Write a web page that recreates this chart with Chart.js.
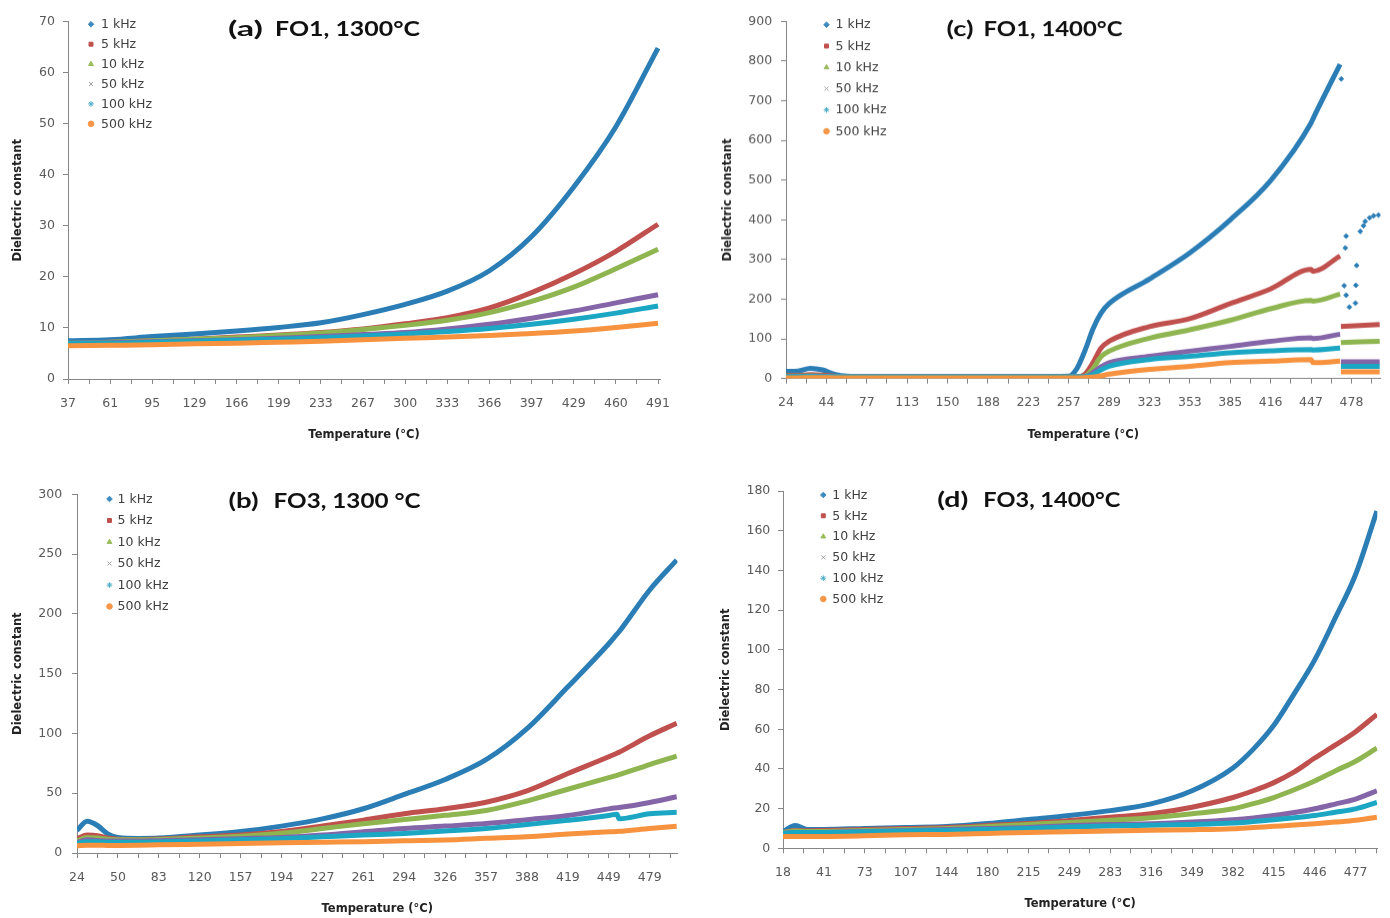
<!DOCTYPE html>
<html>
<head>
<meta charset="utf-8">
<script src="https://cdn.jsdelivr.net/npm/chart.js@4.4.1/dist/chart.umd.min.js"></script>
<style>
  html, body { margin: 0; padding: 0; background: #fff; width: 1390px; height: 918px; overflow: hidden; }
  .panel { position: absolute; }
</style>
</head>
<body>
<div class="panel" id="boxA"><canvas id="chartA"></canvas></div>
<div class="panel" id="boxC"><canvas id="chartC"></canvas></div>
<div class="panel" id="boxB"><canvas id="chartB"></canvas></div>
<div class="panel" id="boxD"><canvas id="chartD"></canvas></div>
<script>
// series shared by all four panels
const seriesNames = ["1 kHz", "5 kHz", "10 kHz", "50 kHz", "100 kHz", "500 kHz"];
const seriesColors = ["#2b7db6", "#c0504d", "#8fb550", "#8466a8", "#1ba7c3", "#f7923f"];
const legendColors = ["#3d8bbf", "#c0504d", "#9bbb59", "#a0a0a0", "#4bacc6", "#f79646"];
const markerStyles = ["rectRot", "rect", "triangle", "crossRot", "star", "circle"];

// x positions are category positions (1 unit = one labelled tick)

// (a) FO1, 1300°C
const ticksA = [37, 61, 95, 129, 166, 199, 233, 267, 300, 333, 366, 397, 429, 460, 491];
const xA = [0, 1, 2, 3, 4, 5, 6, 7, 8, 9, 10, 11, 12, 13, 14];
const a1k   = [7.5, 7.7, 8.3, 8.8, 9.4, 10.1, 11.0, 12.6, 14.6, 17.2, 21.2, 27.9, 37.6, 49.4, 64.8];
const a5k   = [7.0, 7.2, 7.5, 7.8, 8.2, 8.6, 9.1, 9.8, 10.8, 12.0, 13.9, 16.9, 20.6, 25.0, 30.3];
const a10k  = [7.0, 7.2, 7.5, 7.8, 8.1, 8.5, 9.0, 9.7, 10.5, 11.5, 13.0, 15.2, 18.0, 21.6, 25.4];
const a50k  = [7.0, 7.1, 7.3, 7.5, 7.7, 8.0, 8.3, 8.7, 9.1, 9.8, 10.7, 11.9, 13.3, 14.9, 16.5];
const a100k = [7.0, 7.0, 7.2, 7.4, 7.6, 7.8, 8.1, 8.4, 8.8, 9.3, 9.9, 10.7, 11.7, 12.9, 14.3];
const a500k = [6.5, 6.6, 6.7, 6.9, 7.0, 7.2, 7.4, 7.7, 8.0, 8.2, 8.5, 8.9, 9.4, 10.1, 10.9];

// (c) FO1, 1400°C
const ticksC = [24, 44, 77, 113, 150, 188, 223, 257, 289, 323, 353, 385, 416, 447, 478];
const xC = [0, 0.3, 0.6, 0.9, 1.2, 1.5, 2, 3, 4, 5, 6, 7, 7.2, 7.4, 7.6, 7.8, 8, 9, 10, 11, 12, 13, 13.05, 13.72, 13.73, 13.74, 14.7];
const c1k   = [18, 19, 26, 22, 11, 6, 5, 5, 5, 5, 5, 6, 25, 70, 125, 165, 189, 251, 317, 400, 499, 644, 655, 792, null, null, null];
const c5k   = [8, 8, 10, 9, 6, 4, 4, 4, 4, 4, 4, 4, 4, 11, 40, 77, 94, 131, 151, 189, 226, 275, 270, 309, null, 131, 136];
const c10k  = [6, 6, 7, 6.5, 5, 4, 4, 4, 4, 4, 4, 4, 4, 6, 25, 55, 69, 102, 123, 147, 176, 197, 195, 213, null, 91, 94];
const c50k  = [5, 5, 6, 5.5, 4.5, 4, 4, 4, 4, 4, 4, 4, 4, 5, 15, 30, 40, 56, 69, 81, 94, 103, 101, 112, null, 42, 42];
const c100k = [5, 5, 5.5, 5, 4.5, 4, 4, 4, 4, 4, 4, 4, 4, 4.5, 10, 22, 31, 48, 56, 65, 70, 73, 72, 77, null, 31, 31];
const c500k = [2, 2, 2.5, 2.5, 2, 2, 2, 2, 2, 2, 2, 2, 2, 2.5, 4, 7, 11, 23, 31, 40, 44, 48, 40, 44, null, 17, 17];
// scattered 1 kHz points after the break
const xC1kTail = [13.75, 13.82, 13.85, 13.87, 13.87, 13.95, 14.1, 14.11, 14.13, 14.22, 14.3, 14.34, 14.45, 14.55, 14.67];
const c1kTail  = [755, 234, 329, 359, 210, 180, 190, 235, 285, 371, 385, 396, 405, 410, 412];

// (b) FO3, 1300 °C
const ticksB = [24, 50, 83, 120, 157, 194, 227, 261, 294, 326, 357, 388, 419, 449, 479];
const xB = [0, 0.25, 0.5, 0.75, 1, 1.5, 2, 3, 4, 5, 6, 7, 8, 9, 10, 11, 12, 13, 13.2, 13.25, 14, 14.66];
const b1k   = [19, 26.5, 23, 16, 13, 12.2, 12.5, 15, 18, 22.5, 28.5, 37, 49, 61.5, 78, 104, 139, 175, 183, 185, 220, 245];
const b5k   = [12, 15, 14.5, 12.5, 11.5, 11.3, 11.8, 13.5, 15, 18, 22.5, 27.5, 32.8, 37, 42.5, 52, 66.5, 80.5, 83.5, 84.3, 98, 108.5];
const b10k  = [10, 13, 12.5, 11.5, 11, 11, 11.3, 12.5, 14, 16.5, 20.5, 24.5, 28, 31.5, 35.5, 43.5, 53.3, 63, 65, 65.5, 74, 81];
const b50k  = [9, 11, 10.5, 10, 10, 10, 10.3, 11, 12, 13, 15, 17.7, 20.5, 22.5, 24.6, 27.9, 31.4, 36.9, 37.8, 38, 42.3, 47];
const b100k = [8, 9.5, 9.5, 9, 9, 9, 9.3, 10, 11, 12, 13.5, 15, 16.4, 18.3, 20.5, 23.8, 27.3, 31.4, 32.5, 28.7, 32.8, 34.1];
const b500k = [6, 6.5, 6.5, 6.3, 6.3, 6.4, 6.8, 7.4, 8, 8.5, 9, 9.5, 10.3, 10.9, 12.3, 13.6, 15.8, 17.7, 18, 18.1, 20.5, 22.4];

// (d) FO3, 1400°C
const ticksD = [18, 41, 73, 107, 144, 180, 215, 249, 283, 316, 349, 382, 415, 446, 477];
const xD = [0, 0.3, 0.6, 1, 2, 3, 4, 5, 6, 7, 8, 9, 10, 11, 11.5, 12, 12.5, 13, 13.5, 14, 14.52];
const d1k   = [8.5, 11.5, 9.5, 9.5, 10, 10.5, 11, 12.5, 14.5, 16.5, 19, 22.4, 29, 40.5, 50, 62, 78, 95, 116, 138, 170];
const d5k   = [8, 9, 8.8, 9, 9.5, 10, 10.5, 11.5, 12.5, 14, 15.7, 17.4, 20.7, 25.6, 29, 33.1, 38.5, 45.5, 52, 58.8, 67.5];
const d10k  = [8, 8.7, 8.5, 8.5, 9, 9.5, 10, 11, 12, 13, 14.1, 15.4, 17.4, 19.9, 22.5, 25.6, 29.5, 33.9, 39, 43.9, 50.5];
const d50k  = [7.5, 8, 8, 8, 8.5, 9, 9.5, 10, 10.5, 11.5, 12, 12.4, 13.2, 14.4, 15.3, 16.5, 18, 19.9, 22.3, 24.8, 29];
const d100k = [7.5, 8, 8, 8, 8.3, 8.7, 9, 9.5, 10, 10.7, 11.2, 11.6, 12, 12.7, 13.5, 14.4, 15.4, 16.5, 18.2, 19.9, 23.2];
const d500k = [6, 6, 6, 6, 6.3, 6.8, 7, 7.5, 8, 8.3, 8.7, 9.1, 9.4, 9.9, 10.5, 11.1, 11.7, 12.4, 13.2, 14.1, 15.7];

const TICK_FONT = { family: "DejaVu Sans", size: 12.5 };
const AXIS_COLOR = "#868686";

// draw titles and legend inside each plot
const panelDecor = {
  id: "panelDecor",
  afterDatasetsDraw(chart, args, o) {
    const ctx = chart.ctx;
    const ox = o.boxLeft, oy = o.boxTop;
    ctx.save();
    ctx.fillStyle = "#111";
    ctx.textBaseline = "alphabetic";
    const stretch = (text, font, x0, x1, y) => {
      ctx.font = font;
      const w = ctx.measureText(text).width;
      ctx.save();
      ctx.translate(x0 - ox, y - oy);
      ctx.scale((x1 - x0) / w, 1);
      ctx.fillText(text, 0, 0);
      ctx.restore();
    };
    stretch(o.tag, "bold 20px Lato", o.tagX[0], o.tagX[1], o.baseY);
    stretch(o.text, "bold 20px Lato", o.textX[0], o.textX[1], o.baseY);

    // legend
    ctx.font = "12.5px 'DejaVu Sans'";
    ctx.textBaseline = "middle";
    seriesNames.forEach((name, i) => {
      const y = o.legY + i * o.legStep - oy;
      ctx.fillStyle = legendColors[i];
      ctx.strokeStyle = legendColors[i];
      ctx.lineWidth = 1;
      Chart.helpers.drawPoint(ctx, {
        pointStyle: markerStyles[i], radius: 2.8, rotation: 0, borderWidth: 1
      }, o.legMX - ox, y);
      ctx.fillStyle = "#404040";
      ctx.fillText(name, o.legTX - ox, y + 0.5);
    });
    ctx.restore();
  }
};

function makePanel(p) {
  const box = document.getElementById(p.box);
  const left = p.plot.l - 68, top = p.plot.t - 10;
  box.style.left = left + "px";
  box.style.top = top + "px";
  box.style.width = (p.plot.r + 12 - left) + "px";
  box.style.height = (p.plot.b + 66 - top) + "px";

  const datasets = p.series.map((vals, i) => ({
    label: seriesNames[i],
    data: vals.map((v, k) => ({ x: p.xs[k], y: v })),
    borderColor: seriesColors[i],
    backgroundColor: seriesColors[i],
    borderWidth: 5,
    pointRadius: 0,
    cubicInterpolationMode: "monotone",
    spanGaps: false,
    order: 6 - i
  }));
  if (p.extra) datasets.push(p.extra);

  const halfTicks = [];
  for (let v = 0; v <= p.xMax + 1e-9; v += 0.5) halfTicks.push(v);

  new Chart(document.getElementById(p.canvas), {
    type: "line",
    data: { datasets },
    options: {
      responsive: true,
      maintainAspectRatio: false,
      animation: false,
      layout: { padding: { top: 10, right: 12, left: 0, bottom: 0 } },
      plugins: {
        legend: { display: false },
        tooltip: { enabled: false },
        panelDecor: Object.assign({ boxLeft: left, boxTop: top }, p.decor)
      },
      scales: {
        x: {
          type: "linear",
          min: 0,
          max: p.xMax,
          afterBuildTicks: axis => { axis.ticks = halfTicks.map(v => ({ value: v })); },
          afterFit: s => { s.height = 66; },
          grid: { drawOnChartArea: false, drawTicks: true, tickLength: 5, color: AXIS_COLOR },
          border: { color: AXIS_COLOR, width: 1 },
          ticks: {
            autoSkip: false, maxRotation: 0, padding: 12,
            color: "#595959", font: TICK_FONT,
            callback: v => (Number.isInteger(v) && p.labels[v] !== undefined) ? p.labels[v] : ""
          },
          title: {
            display: true, text: "Temperature (°C)", color: "#222",
            font: { family: "DejaVu Sans", size: 11.5, weight: "bold" },
            padding: { top: 0, bottom: 3 }
          }
        },
        y: {
          min: 0,
          max: p.yMax,
          afterFit: s => { s.width = 68; },
          grid: { drawOnChartArea: false, drawTicks: true, tickLength: 5, color: AXIS_COLOR },
          border: { color: AXIS_COLOR, width: 1 },
          ticks: { stepSize: p.yStep, padding: p.yPad, color: "#595959", font: TICK_FONT },
          title: {
            display: true, text: "Dielectric constant", color: "#222",
            font: { family: "DejaVu Sans", size: 11.5, weight: "bold" },
            padding: { top: p.yTitleX - left - 6.9, bottom: 0 }
          }
        }
      }
    },
    plugins: [panelDecor]
  });
}

makePanel({
  box: "boxA", canvas: "chartA",
  plot: { l: 68, t: 16, r: 670, b: 379 },
  xs: xA, labels: ticksA, xMax: 14.05, yMax: 70, yStep: 10, yPad: 8, yTitleX: 18,
  series: [a1k, a5k, a10k, a50k, a100k, a500k],
  decor: { tag: "(a)", text: "FO1, 1300°C", tagX: [228, 263], textX: [275, 420], baseY: 36,
           legMX: 91, legTX: 101, legY: 24.3, legStep: 19.9 }
});

makePanel({
  box: "boxC", canvas: "chartC",
  plot: { l: 785.5, t: 15, r: 1380, b: 377.7 },
  xs: xC, labels: ticksC, xMax: 14.72, yMax: 900, yStep: 100, yPad: 8.8, yTitleX: 728,
  series: [c1k, c5k, c10k, c50k, c100k, c500k],
  extra: {
    label: "1 kHz tail",
    data: c1kTail.map((v, k) => ({ x: xC1kTail[k], y: v })),
    showLine: false, pointStyle: "rectRot", pointRadius: 2.4,
    backgroundColor: seriesColors[0], borderColor: seriesColors[0], borderWidth: 1, order: 7
  },
  decor: { tag: "(c)", text: "FO1, 1400°C", tagX: [946, 973], textX: [983, 1122], baseY: 36,
           legMX: 826, legTX: 835, legY: 24.7, legStep: 21.25 }
});

makePanel({
  box: "boxB", canvas: "chartB",
  plot: { l: 76.5, t: 487.3, r: 677, b: 853.3 },
  xs: xB, labels: ticksB, xMax: 14.68, yMax: 300, yStep: 50, yPad: 9.8, yTitleX: 18,
  series: [b1k, b5k, b10k, b50k, b100k, b500k],
  decor: { tag: "(b)", text: "FO3, 1300 °C", tagX: [228, 258], textX: [273, 420], baseY: 508,
           legMX: 109, legTX: 117, legY: 499.3, legStep: 21.5 }
});

makePanel({
  box: "boxD", canvas: "chartD",
  plot: { l: 782.7, t: 486, r: 1377, b: 848.3 },
  xs: xD, labels: ticksD, xMax: 14.53, yMax: 180, yStep: 20, yPad: 7.7, yTitleX: 726,
  series: [d1k, d5k, d10k, d50k, d100k, d500k],
  decor: { tag: "(d)", text: "FO3, 1400°C", tagX: [937, 968], textX: [983, 1120], baseY: 507,
           legMX: 823, legTX: 832, legY: 495, legStep: 20.8 }
});
</script>
</body>
</html>
